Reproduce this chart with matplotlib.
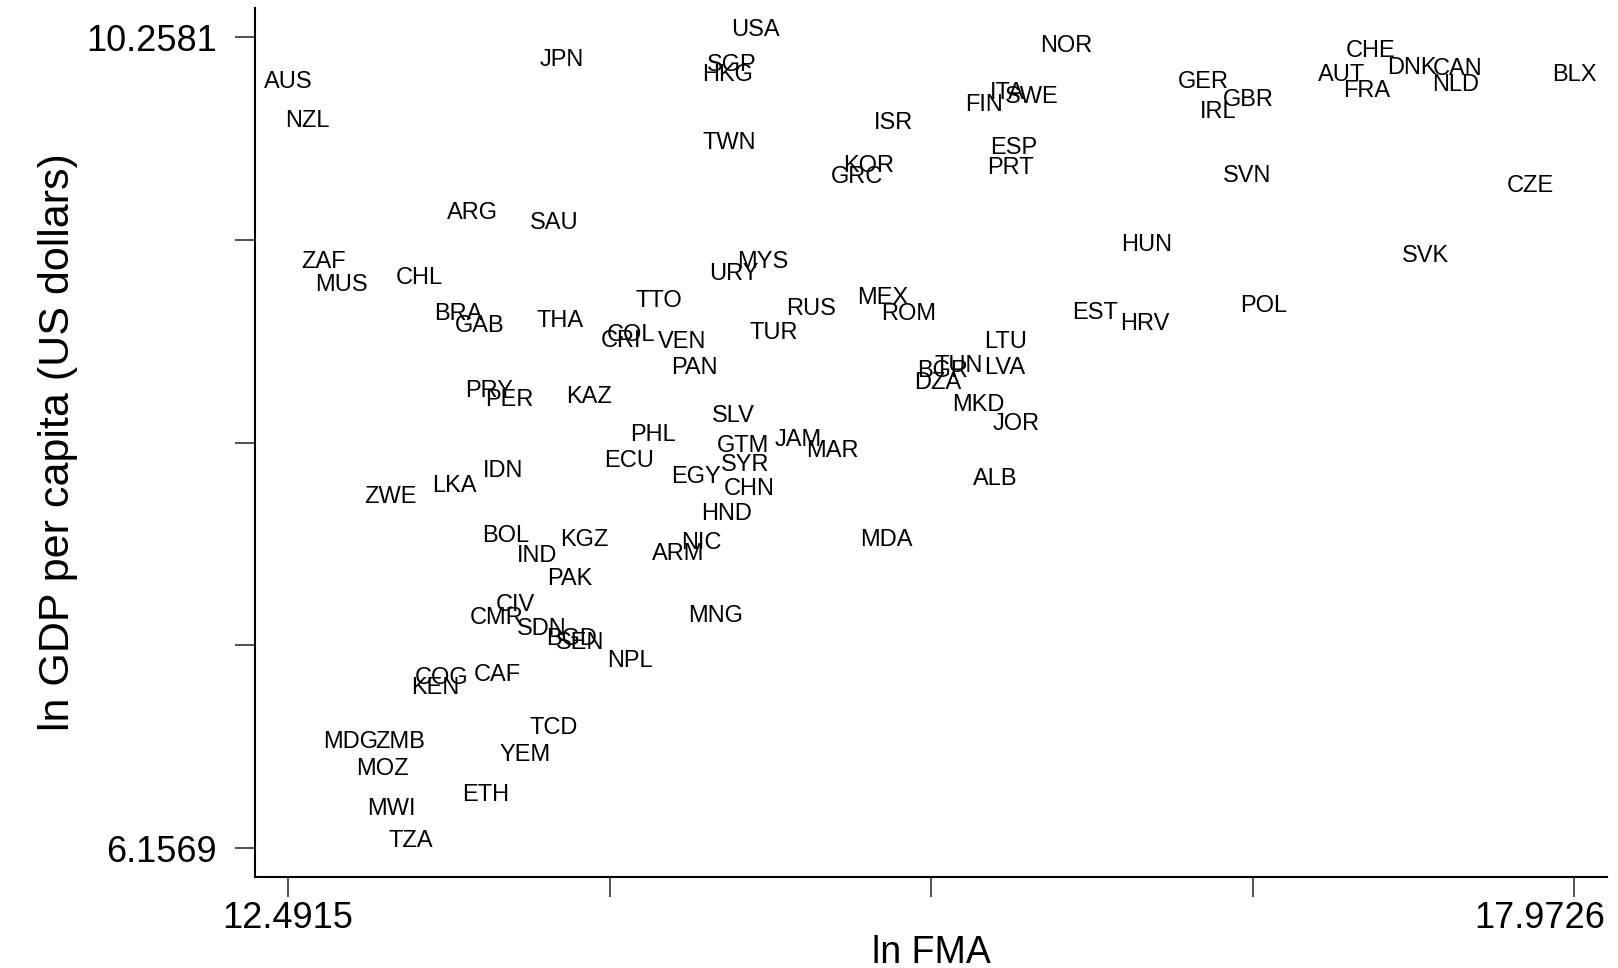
"""
ln GDP per capita vs ln FMA, country-code labelled scatter
"""
import matplotlib
matplotlib.use('Agg')
import matplotlib.pyplot as plt
import matplotlib.transforms as mtransforms
import numpy as np

plt.rcParams['font.family'] = ['Liberation Sans', 'DejaVu Sans']

# country codes and their values
countries = [
    'USA', 'JPN', 'SGP', 'HKG', 'AUS', 'NZL', 'NOR', 'CHE', 'DNK', 'CAN',
    'AUT', 'NLD', 'FRA', 'BLX', 'GER', 'GBR', 'IRL', 'ITA', 'SWE', 'FIN',
    'ISR', 'TWN', 'ESP', 'PRT', 'KOR', 'GRC', 'SVN', 'CZE', 'ARG', 'SAU',
    'HUN', 'SVK', 'ZAF', 'MYS', 'URY', 'CHL', 'MUS', 'MEX', 'TTO', 'RUS',
    'POL', 'ROM', 'EST', 'BRA', 'HRV', 'GAB', 'THA', 'COL', 'TUR', 'CRI',
    'VEN', 'LTU', 'PAN', 'TUN', 'LVA', 'BGR', 'DZA', 'PRY', 'PER', 'KAZ',
    'MKD', 'SLV', 'JOR', 'PHL', 'JAM', 'GTM', 'MAR', 'ECU', 'SYR', 'IDN',
    'EGY', 'LKA', 'ALB', 'CHN', 'ZWE', 'HND', 'BOL', 'KGZ', 'NIC', 'MDA',
    'ARM', 'IND', 'PAK', 'CIV', 'MNG', 'CMR', 'SDN', 'BGD', 'SEN', 'NPL',
    'COG', 'CAF', 'KEN', 'TCD', 'MDG', 'ZMB', 'YEM', 'MOZ', 'ETH', 'MWI',
    'TZA',
]

ln_fma = [
    14.484, 13.657, 14.383, 14.366, 12.492, 12.575, 15.808, 17.106, 17.282, 17.476,
    16.983, 17.467, 17.089, 17.973, 16.393, 16.583, 16.455, 15.558, 15.663, 15.456,
    15.074, 14.374, 15.584, 15.571, 14.968, 14.915, 16.578, 17.788, 13.279, 13.626,
    16.152, 17.339, 12.641, 14.515, 14.392, 13.050, 12.720, 15.025, 14.071, 14.722,
    16.649, 15.135, 15.932, 13.217, 16.143, 13.310, 13.653, 13.952, 14.563, 13.912,
    14.172, 15.549, 14.225, 15.351, 15.544, 15.281, 15.259, 13.349, 13.433, 13.776,
    15.435, 14.388, 15.597, 14.049, 14.665, 14.432, 14.810, 13.943, 14.440, 13.407,
    14.229, 13.200, 15.505, 14.458, 12.927, 14.361, 13.420, 13.754, 14.251, 15.043,
    14.154, 13.552, 13.692, 13.459, 14.313, 13.380, 13.574, 13.701, 13.736, 13.948,
    13.147, 13.385, 13.121, 13.622, 12.760, 12.971, 13.503, 12.892, 13.336, 12.931,
    13.015,
]

ln_gdp = [
    10.295, 10.143, 10.117, 10.065, 10.029, 9.836, 10.211, 10.185, 10.102, 10.096,
    10.065, 10.018, 9.987, 10.065, 10.029, 9.940, 9.877, 9.976, 9.956, 9.914,
    9.825, 9.721, 9.695, 9.595, 9.606, 9.549, 9.554, 9.507, 9.366, 9.319,
    9.204, 9.152, 9.121, 9.121, 9.058, 9.037, 9.006, 8.938, 8.922, 8.881,
    8.896, 8.855, 8.865, 8.855, 8.808, 8.797, 8.823, 8.750, 8.761, 8.719,
    8.714, 8.714, 8.583, 8.594, 8.583, 8.568, 8.510, 8.468, 8.421, 8.437,
    8.395, 8.343, 8.301, 8.244, 8.218, 8.192, 8.166, 8.114, 8.093, 8.061,
    8.035, 7.988, 8.025, 7.973, 7.931, 7.848, 7.733, 7.712, 7.701, 7.712,
    7.644, 7.634, 7.519, 7.388, 7.331, 7.320, 7.263, 7.216, 7.195, 7.101,
    7.018, 7.033, 6.966, 6.762, 6.694, 6.694, 6.627, 6.554, 6.423, 6.355,
    6.193,
]

x_min, x_max = 12.4915, 17.9726
y_min, y_max = 6.1569, 10.2581

fig = plt.figure(figsize=(16.18, 9.68), dpi=100)
ax = fig.add_axes([0.1576, 0.094, 0.8356, 0.8977])

# 每个国家只画代码文字，不画点
for name, x, y in zip(countries, ln_fma, ln_gdp):
    ax.text(x, y, name, ha='center', va='center', fontsize=17, color='black')

ax.set_xlim(12.3508, 18.1132)
ax.set_ylim(6.0102, 10.4048)

ax.set_xticks(np.linspace(x_min, x_max, 5))
ax.set_xticklabels(['12.4915', '', '', '', '17.9726'])
ax.set_yticks(np.linspace(y_min, y_max, 5))
ax.set_yticklabels(['6.1569', '', '', '', '10.2581'])

ax.tick_params(axis='both', length=14.4, width=1.2, color='#333333',
               labelsize=26, labelcolor='black')
ax.tick_params(axis='y', pad=13)
ax.tick_params(axis='x', pad=3)

# 右端刻度标签右对齐，避免被裁掉
last = ax.get_xticklabels()[-1]
last.set_horizontalalignment('right')
last.set_transform(last.get_transform() +
                   mtransforms.ScaledTranslation(0.31, 0, fig.dpi_scale_trans))

for side in ['top', 'right']:
    ax.spines[side].set_visible(False)
for side in ['left', 'bottom']:
    ax.spines[side].set_linewidth(1.5)
    ax.spines[side].set_color('black')

ax.set_xlabel('ln FMA', fontsize=27, labelpad=-1)
ax.set_ylabel('ln GDP per capita (US dollars)', fontsize=31, labelpad=6)

fig.savefig('out.png', dpi=100)
plt.close(fig)
